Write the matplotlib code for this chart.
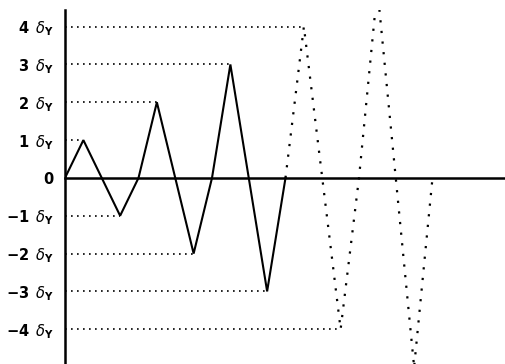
import matplotlib
matplotlib.use('Agg')
import matplotlib.pyplot as plt

# quarter-cycle steps and amplitudes (in units of delta_Y)
t_solid = [0, 1, 2, 3, 4, 5, 6, 7, 8, 9, 10, 11, 12]
y_solid = [0, 1, 0, -1, 0, 2, 0, -2, 0, 3, 0, -3, 0]
t_dotted = [12, 13, 14, 15, 16, 17, 18, 19, 20]
y_dotted = [0, 4, 0, -4, 0, 5, 0, -5, 0]

levels = [4, 3, 2, 1, 0, -1, -2, -3, -4]
lab = '{} $\\,\\delta_{{\\mathbf{{Y}}}}$'
labels = [lab.format('4'), lab.format('3'), lab.format('2'), lab.format('1'), '0',
          lab.format('\u22121'), lab.format('\u22122'), lab.format('\u22123'),
          lab.format('\u22124')]

fig = plt.figure(figsize=(5.06, 3.64), dpi=100)
ax = fig.add_axes([65 / 506, 0, 441 / 506, 354 / 364])

# dotted guide lines from axis to each peak (peaks up to 4 delta_Y)
pk_t = t_solid + t_dotted
pk_y = y_solid + y_dotted
for t, y in zip(pk_t, pk_y):
    if y != 0 and abs(y) <= 4:
        ax.plot([0, t], [y, y], color='black', lw=1.2, ls=(0, (1, 2.6)))

ax.plot(t_solid, y_solid, color='black', lw=1.5, solid_joinstyle='miter')
ax.plot(t_dotted, y_dotted, color='black', lw=1.6, ls=(0, (1, 3.8)))

ax.set_xlim(0, 24)
ax.set_ylim(-4.92, 4.44)

ax.spines['top'].set_visible(False)
ax.spines['right'].set_visible(False)
ax.spines['bottom'].set_position(('data', 0))
ax.spines['left'].set_linewidth(1.8)
ax.spines['bottom'].set_linewidth(1.8)

ax.set_xticks([])
ax.set_yticks(levels)
ax.set_yticklabels(labels, fontsize=10.5, fontweight='bold')
ax.tick_params(axis='y', length=0, pad=8)

fig.savefig('out.png', dpi=100)
